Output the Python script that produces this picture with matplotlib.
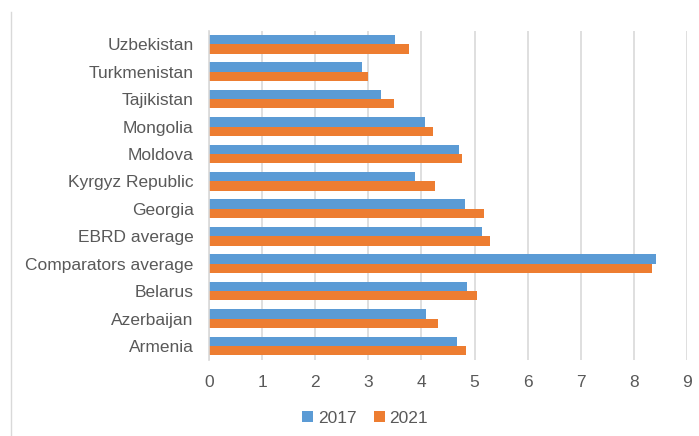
import matplotlib.pyplot as plt
import numpy as np
from matplotlib.lines import Line2D

plt.rcParams['font.family'] = ['Liberation Sans', 'DejaVu Sans']

countries = ["Uzbekistan", "Turkmenistan", "Tajikistan", "Mongolia", "Moldova",
             "Kyrgyz Republic", "Georgia", "EBRD average", "Comparators average",
             "Belarus", "Azerbaijan", "Armenia"]
vals_2017 = [3.50, 2.88, 3.23, 4.06, 4.71, 3.88, 4.81, 5.14, 8.42, 4.85, 4.09, 4.66]
vals_2021 = [3.77, 3.00, 3.48, 4.21, 4.76, 4.26, 5.18, 5.29, 8.33, 5.04, 4.31, 4.83]

blue = "#5b9bd5"
orange = "#ed7d31"
text_col = "#595959"

fig = plt.figure(figsize=(6.99, 4.36), dpi=100)
ax = fig.add_axes([0.299, 0.175, 0.684, 0.755])

y = np.arange(len(countries))[::-1]
h = 0.34
ax.barh(y + h / 2, vals_2017, height=h, color=blue, label="2017")
ax.barh(y - h / 2, vals_2021, height=h, color=orange, label="2021")

ax.set_xlim(0, 9)
ax.set_ylim(-0.5, len(countries) - 0.5)
ax.set_xticks(range(10))
ax.set_yticks(y)
ax.set_yticklabels(countries)
ax.tick_params(axis='both', length=0, labelsize=12.5, colors=text_col)
ax.tick_params(axis='x', pad=11)
ax.tick_params(axis='y', pad=11)

ax.grid(axis='x', color="#d9d9d9", linewidth=1.2)
ax.set_axisbelow(True)
for s in ["top", "right", "bottom"]:
    ax.spines[s].set_visible(False)
ax.spines["left"].set_color("#d9d9d9")
ax.spines["left"].set_linewidth(1.2)

# chart frame edge on the left
fig.add_artist(Line2D([11 / 699, 11 / 699], [0, 1 - 12 / 436],
                      color="#d9d9d9", linewidth=1))

leg = fig.legend(loc="center", bbox_to_anchor=(365 / 699, 1 - 418 / 436), ncol=2,
                 frameon=False, fontsize=12.5, handlelength=0.65, handleheight=0.65,
                 handletextpad=0.25, columnspacing=1.0)
for t in leg.get_texts():
    t.set_color(text_col)

fig.savefig("out.png", dpi=100)
